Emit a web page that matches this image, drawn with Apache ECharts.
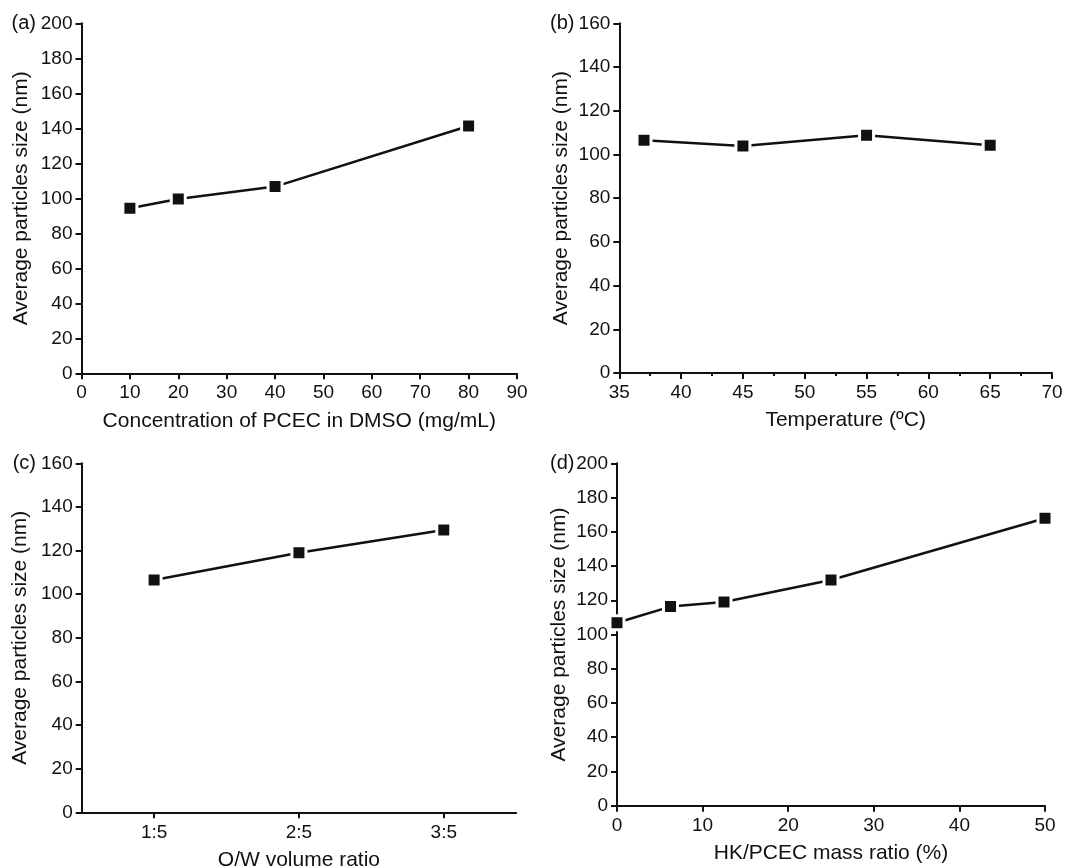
<!DOCTYPE html>
<html>
<head>
<meta charset="utf-8">
<title>Average particles size</title>
<script src="https://cdn.jsdelivr.net/npm/echarts@6/dist/echarts.min.js"></script>
<style>
  html, body { margin: 0; padding: 0; background: #fff; }
  #main { width: 1065px; height: 868px; }
</style>
</head>
<body>
<div id="main"></div>
<script>
// (a) concentration of PCEC in DMSO
var concA = [10, 20, 40, 80];
var sizeA = [94.3, 99.6, 106.7, 141.3];
// (b) temperature
var tempB = [37, 45, 55, 65];
var sizeB = [106.5, 103.9, 108.8, 104.2];
// (c) O/W volume ratio
var ratioC = ['1:5', '2:5', '3:5'];
var sizeC = [106.5, 119.0, 129.4];
// (d) HK/PCEC mass ratio
var massD = [0, 6.25, 12.5, 25, 50];
var sizeD = [106.9, 116.3, 119.0, 131.8, 167.9];

var panelLabels = ['(a)', '(b)', '(c)', '(d)'];
var xNames = ['Concentration of PCEC in DMSO (mg/mL)', 'Temperature (ºC)', 'O/W volume ratio', 'HK/PCEC mass ratio (%)'];
var yName = 'Average particles size (nm)';

var FONT = 'Liberation Sans';
var INK = '#111';
var NAME_SIZE = 21;
var LABEL_SIZE = 19;

function zip(xs, ys) {
    return xs.map(function (x, i) { return [x, ys[i]]; });
}

var dom = document.getElementById('main');
var myChart = echarts.init(dom, null, { renderer: 'canvas' });

var grids = [
    { left: 81.5, top: 23.3, width: 435.5, height: 350 },
    { left: 619.3, top: 23.3, width: 432.7, height: 349.7 },
    { left: 81.7, top: 463.3, width: 434.5, height: 349 },
    { left: 617, top: 463.3, width: 428, height: 342.4 }
];
grids.forEach(function (g) { g.containLabel = false; g.outerBoundsMode = 'none'; });

function lbl(margin) {
    return { fontFamily: FONT, fontSize: LABEL_SIZE, color: INK, margin: margin };
}

function baseAxis(extra) {
    var ax = {
        gridIndex: 0,
        nameLocation: 'middle',
        nameMoveOverlap: false,
        nameTextStyle: { fontFamily: FONT, fontSize: NAME_SIZE, color: INK },
        axisLine: { show: true, onZero: false, lineStyle: { color: INK, width: 2 } },
        axisTick: { show: true, inside: false, length: 6, lineStyle: { color: INK, width: 2 } },
        axisLabel: lbl(10),
        splitLine: { show: false }
    };
    return Object.assign(ax, extra);
}

var yLimits = [200, 160, 160, 200];
var yGaps = [50, 48, 51, 47];

var xAxes = [
    baseAxis({ gridIndex: 0, type: 'value', min: 0, max: 90, interval: 10, name: xNames[0], nameGap: 37,
        axisLabel: lbl(10) }),
    baseAxis({ gridIndex: 1, type: 'value', min: 35, max: 70, interval: 5, name: xNames[1], nameGap: 37,
        nameTextStyle: { fontFamily: FONT, fontSize: NAME_SIZE, color: INK, padding: [0, 0, 0, 20] },
        axisLabel: lbl(10),
        minorTick: { show: true, splitNumber: 2, length: 3, lineStyle: { color: INK, width: 2 } } }),
    baseAxis({ gridIndex: 2, type: 'category', data: ratioC, boundaryGap: true, name: xNames[2], nameGap: 37,
        axisTick: { show: true, alignWithLabel: true, length: 6, lineStyle: { color: INK, width: 2 } },
        axisLabel: lbl(11) }),
    baseAxis({ gridIndex: 3, type: 'value', min: 0, max: 50, interval: 10, name: xNames[3], nameGap: 37,
        axisLabel: lbl(11) })
];

var yAxes = yLimits.map(function (mx, i) {
    return baseAxis({ gridIndex: i, type: 'value', min: 0, max: mx, interval: 20,
        name: yName, nameGap: yGaps[i], nameRotate: 90,
        axisLabel: lbl(9) });
});

var seriesData = [zip(concA, sizeA), zip(tempB, sizeB), zip(ratioC, sizeC), zip(massD, sizeD)];

var series = seriesData.map(function (d, i) {
    return {
        type: 'line',
        xAxisIndex: i,
        yAxisIndex: i,
        data: d,
        symbol: 'rect',
        symbolSize: 14,
        showAllSymbol: true,
        lineStyle: { color: INK, width: 2.5 },
        itemStyle: { color: INK, borderColor: '#fff', borderWidth: 3 },
        emphasis: { disabled: true },
        animation: false
    };
});

var labelPos = [[36, 23.3], [574.5, 23.3], [36, 463.3], [574.5, 463.3]];
var graphics = panelLabels.map(function (t, i) {
    return {
        type: 'text',
        x: labelPos[i][0],
        y: labelPos[i][1],
        style: { text: t, fontFamily: FONT, fontSize: 20, fill: INK, align: 'right', verticalAlign: 'middle' }
    };
});

var option = {
    backgroundColor: '#fff',
    animation: false,
    grid: grids,
    xAxis: xAxes,
    yAxis: yAxes,
    series: series,
    graphic: graphics
};

myChart.setOption(option);
window.addEventListener('resize', myChart.resize);
</script>
</body>
</html>
